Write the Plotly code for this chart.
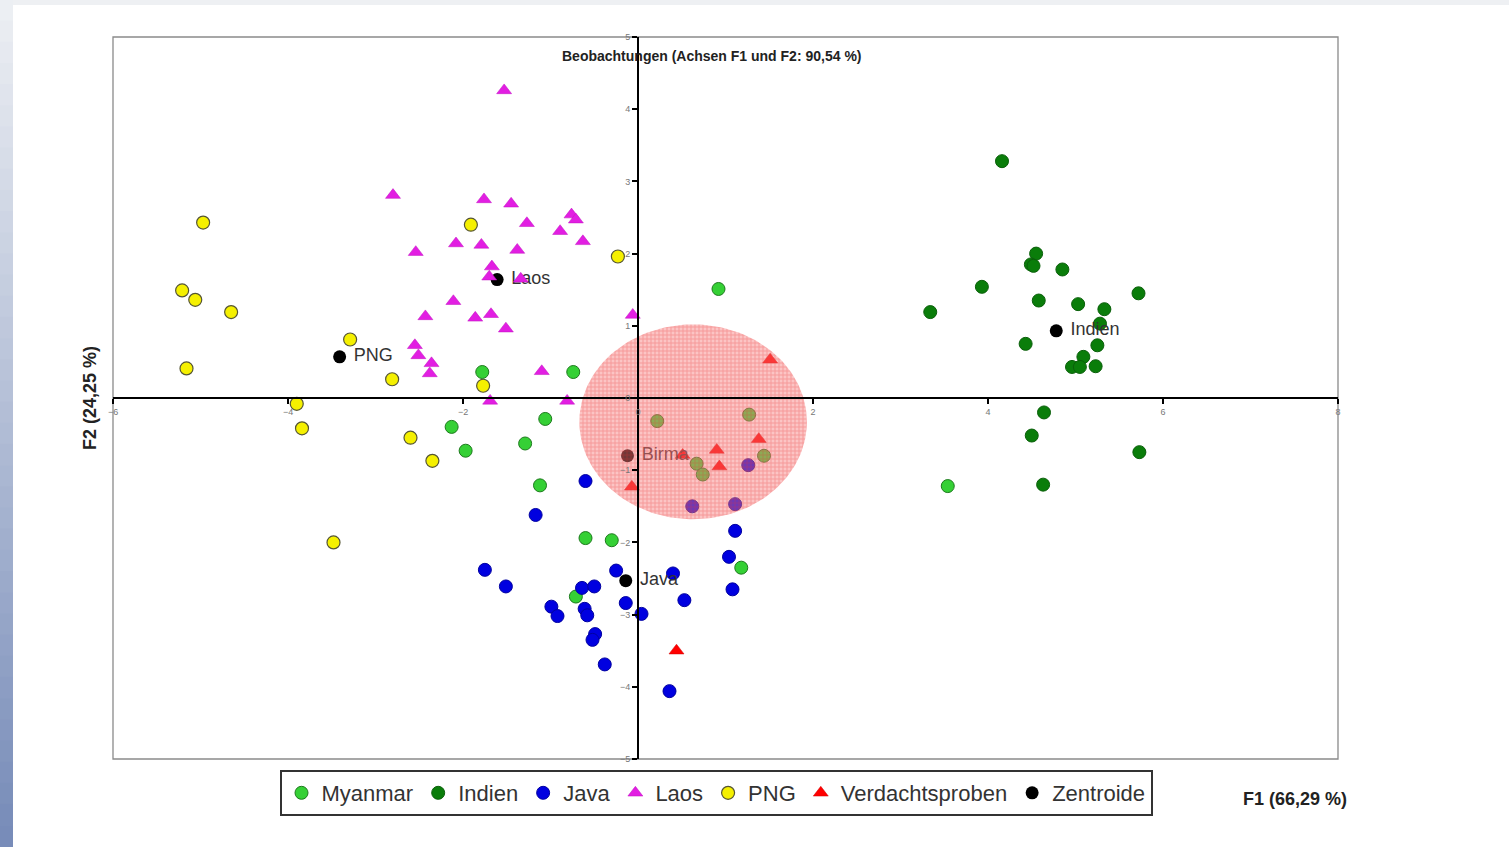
import numpy as np
import plotly.graph_objects as go

# ---------------- data ----------------
myanmar_x = [-1.78, -0.74, -1.06, -2.13, -1.97, -1.29, -1.12, -0.60, -0.30, 1.18, -0.71,
             0.22, 1.27, 1.44, 0.67, 0.74, 0.92, 3.54]
myanmar_y = [0.36, 0.36, -0.29, -0.40, -0.73, -0.63, -1.21, -1.94, -1.97, -2.35, -2.75,
             -0.32, -0.23, -0.80, -0.91, -1.06, 1.51, -1.22]

indien_x = [4.16, 4.55, 4.49, 4.52, 4.85, 3.93, 5.72, 3.34, 4.58, 5.03, 5.33, 5.28, 4.43,
            5.25, 5.09, 4.96, 5.05, 5.23, 4.64, 4.50, 5.73, 4.63]
indien_y = [3.28, 2.00, 1.85, 1.83, 1.78, 1.54, 1.45, 1.19, 1.35, 1.30, 1.23, 1.03, 0.75,
            0.73, 0.57, 0.43, 0.43, 0.44, -0.20, -0.52, -0.75, -1.20]

java_x = [-0.60, -1.17, 1.11, 1.04, -1.75, -1.51, -0.25, 0.40, -0.64, -0.50, 1.08, 0.53,
          -0.14, -0.99, -0.92, -0.61, -0.58, 0.04, -0.49, -0.52, -0.38, 0.36, 1.26, 0.62, 1.11]
java_y = [-1.15, -1.62, -1.84, -2.20, -2.38, -2.61, -2.39, -2.43, -2.63, -2.61, -2.65, -2.80,
          -2.84, -2.89, -3.02, -2.92, -3.01, -2.99, -3.27, -3.35, -3.69, -4.06, -0.93, -1.50, -1.47]

laos_x = [-1.53, -2.80, -1.76, -1.45, -0.76, -0.71, -1.27, -0.89, -0.63, -2.54, -2.08, -1.79,
          -1.38, -1.67, -1.70, -1.34, -2.11, -2.43, -1.86, -1.68, -1.51, -0.06, -2.55, -2.51,
          -2.36, -2.38, -1.10, -1.69, -0.81]
laos_y = [4.26, 2.81, 2.75, 2.69, 2.54, 2.47, 2.42, 2.31, 2.17, 2.02, 2.14, 2.12, 2.05, 1.82,
          1.68, 1.65, 1.34, 1.13, 1.11, 1.16, 0.96, 1.15, 0.73, 0.59, 0.48, 0.34, 0.37, -0.04, -0.04]

png_x = [-4.97, -5.21, -5.06, -4.65, -5.16, -3.29, -2.81, -3.90, -3.84, -2.60, -2.35, -3.48,
         -1.91, -0.23, -1.77]
png_y = [2.43, 1.49, 1.36, 1.19, 0.41, 0.81, 0.26, -0.08, -0.42, -0.55, -0.87, -2.00,
         2.40, 1.96, 0.17]

verdacht_x = [1.51, 1.38, 0.90, 0.93, 0.51, -0.07, 0.44]
verdacht_y = [0.53, -0.57, -0.72, -0.95, -0.79, -1.23, -3.50]

centroid_names = ["PNG", "Laos", "Birma", "Java", "Indien"]
centroid_x = [-3.41, -1.61, -0.12, -0.14, 4.78]
centroid_y = [0.57, 1.64, -0.80, -2.53, 0.93]

# highlighted region (ellipse) around the suspicious samples
ellipse_cx, ellipse_cy = 0.63, -0.33
ellipse_rx, ellipse_ry = 1.30, 1.35

x_ticks = [-6, -4, -2, 0, 2, 4, 6, 8]
y_ticks = [-5, -4, -3, -2, -1, 0, 1, 2, 3, 4, 5]

# ---------------- figure ----------------
FONT = "Arial, 'Liberation Sans', sans-serif"
W, H = 1509, 847
ML, MR, MT, MB = 113, 171, 37, 88
PW, PH = W - ML - MR, H - MT - MB

fig = go.Figure()

fig.add_trace(go.Scatter(x=myanmar_x, y=myanmar_y, mode="markers", name="Myanmar",
                         marker=dict(symbol="circle", size=13, color="#35d035",
                                     line=dict(color="#1d7a1d", width=1))))
fig.add_trace(go.Scatter(x=indien_x, y=indien_y, mode="markers", name="Indien",
                         marker=dict(symbol="circle", size=13, color="#0a7d0a",
                                     line=dict(color="#0a5f0a", width=1))))
fig.add_trace(go.Scatter(x=java_x, y=java_y, mode="markers", name="Java",
                         marker=dict(symbol="circle", size=13, color="#0000e0",
                                     line=dict(color="#0000a0", width=1))))
fig.add_trace(go.Scatter(x=png_x, y=png_y, mode="markers", name="PNG",
                         marker=dict(symbol="circle", size=13, color="#f5f000",
                                     line=dict(color="#555533", width=1.2))))
fig.add_trace(go.Scatter(x=verdacht_x, y=verdacht_y, mode="markers", name="Verdachtsproben",
                         marker=dict(symbol="triangle-up", size=13, color="#ff0000",
                                     line=dict(color="#d00000", width=0.5))))
fig.add_trace(go.Scatter(x=centroid_x, y=centroid_y, mode="markers+text", name="Zentroide",
                         text=[" " + n for n in centroid_names], textposition="middle right",
                         textfont=dict(family=FONT, size=18, color="#333333"),
                         marker=dict(symbol="circle", size=13, color="#000000")))
fig.add_trace(go.Scatter(x=laos_x, y=laos_y, mode="markers", name="Laos",
                         marker=dict(symbol="triangle-up", size=13, color="#e21ee2",
                                     line=dict(color="#c010c0", width=0.5))))

# translucent hatched ellipse drawn on top of the points
t = np.linspace(0, 2 * np.pi, 181)
fig.add_trace(go.Scatter(
    x=ellipse_cx + ellipse_rx * np.cos(t), y=ellipse_cy + ellipse_ry * np.sin(t),
    mode="lines", line=dict(width=0, color="rgba(0,0,0,0)"), fill="toself",
    fillcolor="rgba(245,110,110,0.5)",
    fillpattern=dict(shape="+", size=4, solidity=0.4,
                     fgcolor="rgba(230,45,45,0.62)", bgcolor="rgba(248,125,125,0.45)"),
    showlegend=False, hoverinfo="skip"))

# ---------------- decorations ----------------
shapes = []
# left blue gradient strip + top grey band (page decoration)
steps = 40
for i in range(steps):
    f = i / (steps - 1)
    r = int(236 + (120 - 236) * f)
    g = int(239 + (140 - 239) * f)
    b = int(243 + (185 - 243) * f)
    y0 = 1 + MT / PH - (i + 1) * (H / PH) / steps
    y1 = 1 + MT / PH - i * (H / PH) / steps
    shapes.append(dict(type="rect", xref="paper", yref="paper",
                       x0=-ML / PW, x1=(13 - ML) / PW, y0=y0, y1=y1 + 0.001,
                       fillcolor=f"rgb({r},{g},{b})", line=dict(width=0), layer="below"))
shapes.append(dict(type="rect", xref="paper", yref="paper",
                   x0=(13 - ML) / PW, x1=1 + MR / PW, y0=1 + (MT - 5) / PH, y1=1 + MT / PH,
                   fillcolor="#eef0f3", line=dict(width=0), layer="below"))
# grey plot frame
shapes.append(dict(type="rect", xref="paper", yref="paper", x0=0, x1=1, y0=0, y1=1,
                   line=dict(color="#8a8a8a", width=1.3), fillcolor="rgba(0,0,0,0)",
                   layer="below"))

annotations = [
    dict(text="<b>Beobachtungen (Achsen F1 und F2: 90,54 %)</b>", xref="paper", yref="paper",
         x=(712 - ML) / PW, y=1 - (56 - MT) / PH, showarrow=False,
         font=dict(family=FONT, size=14, color="#222222"), xanchor="center", yanchor="middle"),
    dict(text="<b>F2 (24,25 %)</b>", xref="paper", yref="paper", x=(90 - ML) / PW, y=0.5,
         textangle=-90, showarrow=False, font=dict(family=FONT, size=18, color="#222222"),
         xanchor="center", yanchor="middle"),
    dict(text="<b>F1 (66,29 %)</b>", xref="paper", yref="paper", x=(1295 - ML) / PW,
         y=1 - (799 - MT) / PH, showarrow=False,
         font=dict(family=FONT, size=18, color="#222222"), xanchor="center", yanchor="middle"),
]

axis_common = dict(showgrid=False, zeroline=False, showline=True, linecolor="#000000",
                   linewidth=2, ticks="outside", ticklen=5, tickwidth=1.5, tickcolor="#000000",
                   tickfont=dict(family=FONT, size=9, color="#777777"), anchor="free")

fig.update_layout(
    width=W, height=H,
    margin=dict(l=ML, r=MR, t=MT, b=MB, pad=0),
    paper_bgcolor="#ffffff", plot_bgcolor="#ffffff",
    font=dict(family=FONT),
    xaxis=dict(range=[-6, 8], tickvals=x_ticks, position=0.5, **axis_common),
    yaxis=dict(range=[-5, 5], tickvals=y_ticks, position=6 / 14, **axis_common),
    showlegend=True,
    legend=dict(orientation="h", x=(716 - ML) / PW, y=1 - (770 - MT) / PH,
                xanchor="center", yanchor="top", traceorder="normal",
                font=dict(family=FONT, size=22, color="#333333"),
                bordercolor="#333333", borderwidth=2, bgcolor="#ffffff",
                itemwidth=30, tracegroupgap=0),
    shapes=shapes, annotations=annotations,
)

# legend order as in the reference
order = ["Myanmar", "Indien", "Java", "Laos", "PNG", "Verdachtsproben", "Zentroide"]
for tr in fig.data:
    if tr.name in order:
        tr.legendrank = order.index(tr.name) + 1

fig.write_html("out.html", include_plotlyjs=True, config={"displayModeBar": False},
               post_script="document.body.style.margin='0';document.body.style.overflow='hidden';")
